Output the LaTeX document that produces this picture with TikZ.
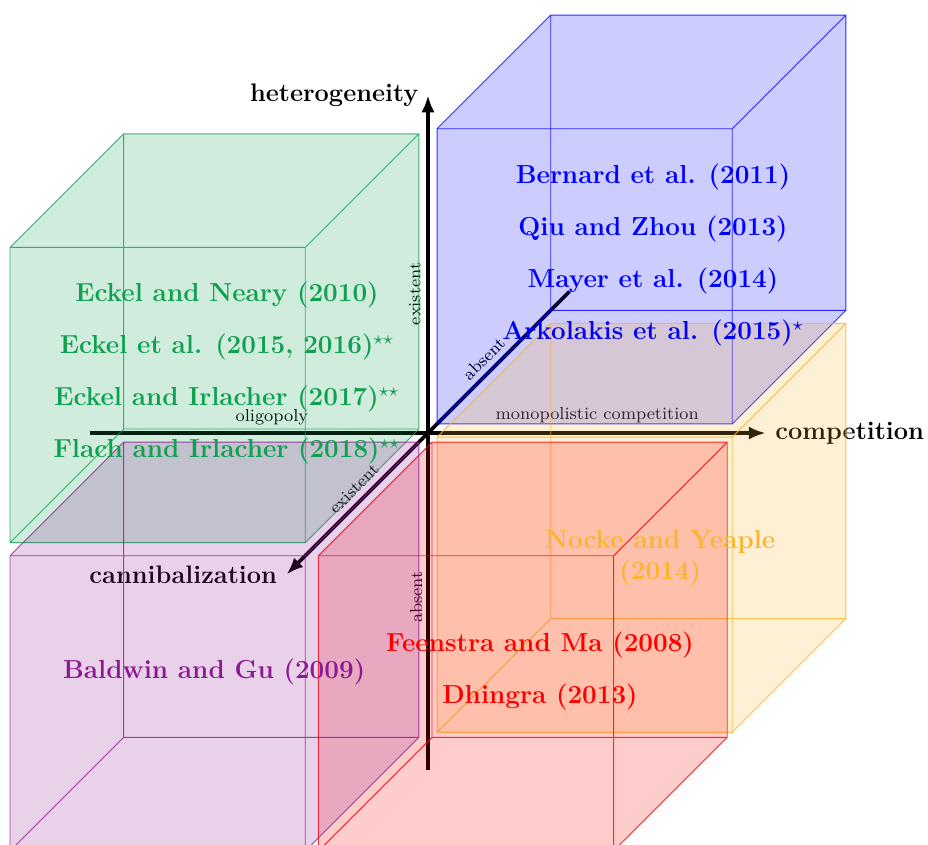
\documentclass[tikz,border=0pt]{standalone}
\usepackage{amsmath}
\usepackage{tikz}
\usetikzlibrary{arrows.meta,positioning,calc}

\definecolor{cubegreen}{RGB}{15,160,80}
\definecolor{cubeviolet}{RGB}{140,25,145}
\definecolor{cubeorange}{RGB}{250,180,45}

% box: colour, x0, x1, y0, y1, z0 (back), z1 (front)
\newcommand{\drawcube}[7]{%
  \fill[#1, fill opacity=0.2] (#2,#4,#7) -- (#3,#4,#7) -- (#3,#4,#6) -- (#3,#5,#6) -- (#2,#5,#6) -- (#2,#5,#7) -- cycle;
  \draw[#1, draw opacity=0.8, thin]
    (#2,#4,#7) -- (#3,#4,#7) -- (#3,#5,#7) -- (#2,#5,#7) -- cycle
    (#2,#4,#6) -- (#3,#4,#6) -- (#3,#5,#6) -- (#2,#5,#6) -- cycle
    (#2,#4,#6) -- (#2,#4,#7) (#3,#4,#6) -- (#3,#4,#7)
    (#3,#5,#6) -- (#3,#5,#7) (#2,#5,#6) -- (#2,#5,#7);
}

\begin{document}
\begin{tikzpicture}[x=1cm, y=1cm, z={(-0.385cm,-0.385cm)}, >={Latex[length=2.6mm,width=2mm]},
    axisline/.style={->, line width=1.6pt},
    axlabel/.style={font=\fontsize{11}{13.6}\selectfont\bfseries},
    sidelabel/.style={font=\fontsize{7.5}{9}\selectfont, inner sep=1pt},
    reflist/.style={align=center, font=\fontsize{11.3}{22.5}\selectfont\bfseries}]
    \useasboundingbox (-6.524,-6.265) rectangle (7.622,6.601);
    % Axes
    \coordinate (O) at (0,0,0);
    \coordinate (xlo) at (-5.15,0,0);
    \coordinate (xhi) at (5.15,0,0);
    \coordinate (ylo) at (0,-5.14,0);
    \coordinate (yhi) at (0,5.15,0);
    \coordinate (zlo) at (0,0,-5.6);
    \coordinate (zhi) at (0,0,5.6);
    \draw[axisline] (xlo) -- (xhi) node[axlabel, right] (comp) {competition};
    \draw[axisline] (ylo) -- (yhi) node[axlabel, left] (het) {heterogeneity};
    \draw[axisline] (zlo) -- (zhi) node[axlabel, left] (cann) {cannibalization};
    % Axis value labels
    \node[sidelabel, rotate=90] (yexist) at (-0.2,2.12) {existent};
    \node[sidelabel, rotate=90] (yabsent) at (-0.18,-2.5) {absent};
    \node[sidelabel] (oligo) at (-2.38,0.24) {oligopoly};
    \node[sidelabel] (mono) at (2.58,0.27) {monopolistic competition};
    \node[sidelabel, rotate=45] (zabsent) at (0.85,1.13) {absent};
    \node[sidelabel, rotate=45] (zexist) at (-1.13,-0.85) {existent};
    % Cubes
    \drawcube{blue}{0.1}{4.6}{0.1}{4.6}{-4.6}{-0.1}
    \drawcube{cubeorange}{0.1}{4.6}{-4.6}{-0.1}{-4.6}{-0.1}
    \drawcube{cubegreen}{-4.6}{-0.1}{0.1}{4.6}{0.1}{4.6}
    \drawcube{red}{0.1}{4.6}{-4.6}{-0.1}{0.1}{4.6}
    \drawcube{cubeviolet}{-4.6}{-0.1}{-4.6}{-0.1}{0.1}{4.6}
    % References in each cube
    \node[reflist, text=blue] (bluerefs) at (3.43,2.71) {Bernard et al. (2011)\\Qiu and Zhou (2013)\\Mayer et al. (2014)\\Arkolakis et al. (2015)$^{\star}$};
    \node[reflist, text=cubegreen] (greenrefs) at (-3.064,0.915) {Eckel and Neary (2010)\\Eckel et al. (2015, 2016)$^{\star\star}$\\Eckel and Irlacher (2017)$^{\star\star}$\\Flach and Irlacher (2018)$^{\star\star}$};
    \node[reflist, text=cubeviolet] (violetrefs) at (-3.26,-3.64) {Baldwin and Gu (2009)};
    \node[reflist, text=red] (redrefs) at (1.707,-3.63) {Feenstra and Ma (2008)\\Dhingra (2013)};
    \node[reflist, text=cubeorange, font=\fontsize{11.3}{13.6}\selectfont\bfseries] (orangerefs) at (3.54,-1.905) {Nocke and Yeaple\\(2014)};
\end{tikzpicture}
\end{document}
